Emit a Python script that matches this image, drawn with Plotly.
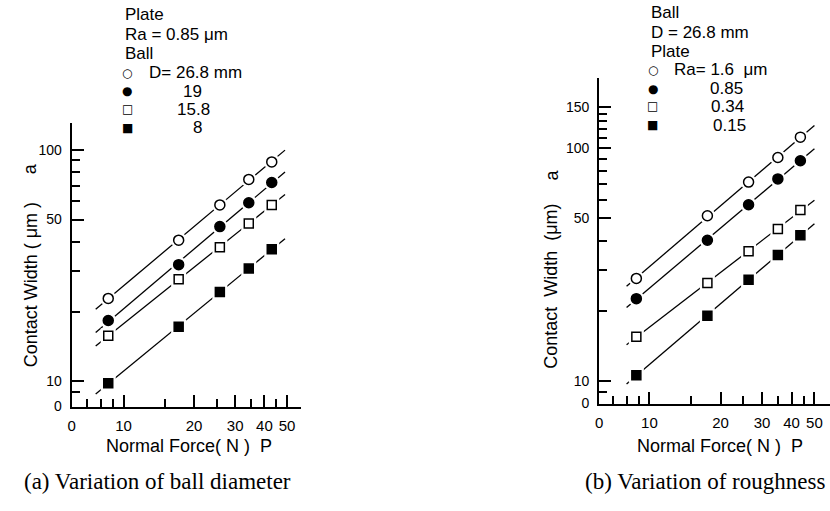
import numpy as np
import plotly.graph_objects as go

W, H = 830, 511

# ---------------- data: panel (a) variation of ball diameter ----------------
load_a = [8.6, 17.2, 25.8, 34.3, 43.0]          # normal force P (N)
ball_labels = ["D= 26.8 mm", "19", "15.8", "8"]
width_d268 = [22.8, 40.7, 57.8, 74.5, 88.7]     # contact width a (um)
width_d19 = [18.3, 31.9, 46.6, 59.1, 72.3]
width_d158 = [15.7, 27.6, 37.9, 48.1, 57.8]
width_d8 = [9.8, 17.2, 24.3, 30.7, 37.2]
fit_span_a = [7.6, 49.0]

# ---------------- data: panel (b) variation of roughness ----------------
load_b = [8.8, 17.6, 26.3, 35.0, 43.6]
ra_labels = ["Ra= 1.6  μm", "0.85", "0.34", "0.15"]
width_ra16 = [27.6, 51.2, 71.4, 91.0, 111.3]
width_ra085 = [22.6, 40.2, 57.1, 73.7, 88.1]
width_ra034 = [15.5, 26.4, 36.1, 44.9, 54.2]
width_ra015 = [10.6, 19.1, 27.2, 34.8, 42.2]
fit_span_b = [8.0, 50.0]

# axis extents (data units) and tick labels
x_range_a = [6.0, 57.1]
y_range_a = [7.77, 130.6]
x_range_b = [6.12, 58.2]
y_range_b = [8.02, 199.4]
x_major = [10, 20, 30, 40, 50]
x_minor = [7, 8, 9, 15, 25, 35, 45]
y_major_a = [10, 50, 100]
y_minor_a = [9, 20, 30, 40, 60, 70, 80, 90]
y_major_b = [10, 50, 100, 150]
y_minor_b = [9, 20, 30, 40, 60, 70, 80, 90, 110, 120, 130, 140]

SANS = "Liberation Sans, Arial, sans-serif"
SERIF = "Liberation Serif, Times New Roman, serif"
SYM = "DejaVu Sans, sans-serif"

styles = [
    dict(symbol="circle", color="white", size=10, glyph="○"),
    dict(symbol="circle", color="black", size=10, glyph="●"),
    dict(symbol="square", color="white", size=9, glyph="□"),
    dict(symbol="square", color="black", size=9, glyph="■"),
]

fig = go.Figure()


def add_series(x, y, span, st, xa, ya, name):
    lx, ly = np.log10(x), np.log10(y)
    k, b = np.polyfit(lx, ly, 1)
    fx = np.array(span, dtype=float)
    fy = 10 ** (k * np.log10(fx) + b)
    fig.add_trace(go.Scatter(x=fx, y=fy, mode="lines", xaxis=xa, yaxis=ya,
                             line=dict(color="black", width=1.3),
                             showlegend=False, hoverinfo="skip"))
    fig.add_trace(go.Scatter(x=x, y=y, mode="markers", xaxis=xa, yaxis=ya,
                             marker=dict(symbol=st["symbol"], size=st["size"] + 6,
                                         color="white", line=dict(width=0)),
                             showlegend=False, hoverinfo="skip"))
    fig.add_trace(go.Scatter(x=x, y=y, mode="markers", xaxis=xa, yaxis=ya, name=name,
                             marker=dict(symbol=st["symbol"], size=st["size"],
                                         color=st["color"],
                                         line=dict(color="black", width=1.5)),
                             showlegend=False))


for ys, st, lab in zip([width_d268, width_d19, width_d158, width_d8], styles, ball_labels):
    add_series(load_a, ys, fit_span_a, st, "x", "y", lab)
for ys, st, lab in zip([width_ra16, width_ra085, width_ra034, width_ra015], styles, ra_labels):
    add_series(load_b, ys, fit_span_b, st, "x2", "y2", lab)


def xaxis(rng, dom):
    return dict(type="log", range=[np.log10(rng[0]), np.log10(rng[1])], domain=dom,
                showline=True, linecolor="black", linewidth=2, showgrid=False, zeroline=False,
                tickmode="array", tickvals=[rng[0]] + x_major,
                ticktext=["0"] + [str(v) for v in x_major],
                ticks="inside", ticklen=12, tickwidth=1.8, tickcolor="black",
                ticklabelstandoff=4,
                tickfont=dict(family=SANS, size=15, color="black"),
                minor=dict(tickmode="array", tickvals=x_minor, ticks="inside",
                           ticklen=8, tickwidth=1.8, tickcolor="black", showgrid=False))


def yaxis(rng, dom, major, minor, anchor):
    return dict(type="log", range=[np.log10(rng[0]), np.log10(rng[1])], domain=dom,
                anchor=anchor,
                showline=True, linecolor="black", linewidth=2, showgrid=False, zeroline=False,
                tickmode="array", tickvals=[rng[0]] + major,
                ticktext=["0"] + [str(v) for v in major],
                ticks="inside", ticklen=12, tickwidth=1.8, tickcolor="black",
                ticklabelstandoff=5,
                tickfont=dict(family=SANS, size=14, color="black"),
                minor=dict(tickmode="array", tickvals=minor, ticks="inside",
                           ticklen=8, tickwidth=1.8, tickcolor="black", showgrid=False))


xa = xaxis(x_range_a, [68 / W, 298 / W]); xa["anchor"] = "y"
xb = xaxis(x_range_b, [598 / W, 1.0]); xb["anchor"] = "y2"
ya = yaxis(y_range_a, [1 - 413 / H, 1 - 125 / H], y_major_a, y_minor_a, "x")
yb = yaxis(y_range_b, [1 - 410 / H, 1 - 79.3 / H], y_major_b, y_minor_b, "x2")

anns = []


def ann(text, px, py, xanchor="left", size=17, family=SANS, angle=0):
    anns.append(dict(text=text, x=px / W, y=1 - py / H, xref="paper", yref="paper",
                     xanchor=xanchor, yanchor="middle", showarrow=False, textangle=angle,
                     font=dict(family=family, size=size, color="black")))


# legend block (a)
for t, py in zip(["Plate", "Ra = 0.85 μm", "Ball"], [15, 35, 54]):
    ann(t, 120, py)
item_y_a = [74, 92.5, 111, 130]
text_x_a = [144, 178, 172, 188]
for st, lab, py, tx in zip(styles, ball_labels, item_y_a, text_x_a):
    ann(st["glyph"], 124, py, xanchor="center", size=12, family=SYM)
    ann(lab, tx, py)

# legend block (b)
for t, py in zip(["Ball", "D = 26.8 mm", "Plate"], [13, 33, 52]):
    ann(t, 648, py)
item_y_b = [71, 90, 108, 127]
text_x_b = [671, 707, 708, 710]
for st, lab, py, tx in zip(styles, ra_labels, item_y_b, text_x_b):
    ann(st["glyph"], 652, py, xanchor="center", size=12, family=SYM)
    ann(lab, tx, py)

# axis titles
ann("Contact Width ( μm )", 28, 289, xanchor="center", size=18, angle=-90)
ann("a", 26, 171, xanchor="center", size=18, angle=-90)
ann("Normal Force( N )  P", 186, 453, xanchor="center", size=18)
ann("Contact  Width  (μm)", 550, 291, xanchor="center", size=18, angle=-90)
ann("a", 551, 178, xanchor="center", size=18, angle=-90)
ann("Normal Force( N )  P", 719, 453, xanchor="center", size=18)

# captions
ann("(a) Variation of ball diameter", 18, 489, size=23, family=SERIF)
ann("(b) Variation of roughness", 827, 489, xanchor="right", size=23, family=SERIF)

fig.update_layout(
    width=W, height=H, margin=dict(l=0, r=0, t=0, b=0),
    paper_bgcolor="white", plot_bgcolor="white",
    xaxis=xa, yaxis=ya, xaxis2=xb, yaxis2=yb,
    annotations=anns, showlegend=False,
)

fig.write_html("out.html")
